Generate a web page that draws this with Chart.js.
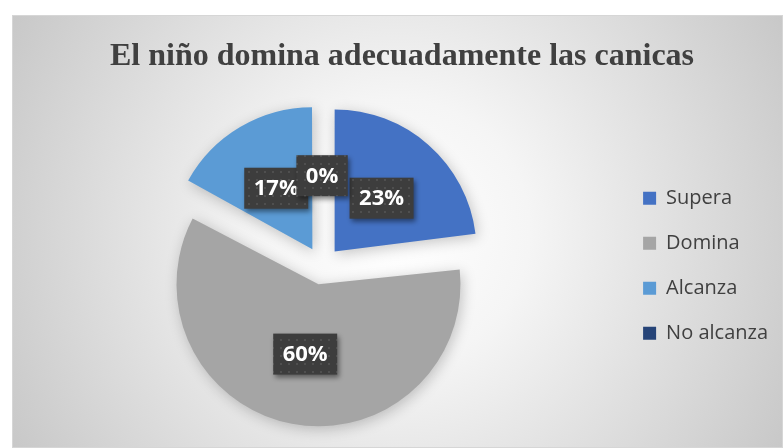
<!DOCTYPE html>
<html>
<head>
<meta charset="utf-8">
<script src="https://cdn.jsdelivr.net/npm/chart.js@4.4.0/dist/chart.umd.min.js"></script>
<style>
html, body { margin: 0; padding: 0; background: #fff; }
#caja {
    position: absolute; left: 12px; top: 15px;
    width: 771px; height: 433px;
    box-sizing: border-box;
    border: 1px solid #d6d6d6;
    background: radial-gradient(circle farthest-corner at 50% 50%, #ffffff 0%, #f5f5f5 30%, #c8c8c8 100%);
}
canvas { display: block; }
</style>
</head>
<body>
<div id="caja"><canvas id="graph1" width="769" height="431"></canvas></div>
<script>
const titulo      = "El niño domina adecuadamente las canicas";
const categorias  = ["Supera", "Domina", "Alcanza", "No alcanza"];
const porcentajes = [23, 60, 17, 0];
const colores     = ["#4472C4", "#A5A5A5", "#5B9BD5", "#264478"];

// trama de puntos para las cajas de las etiquetas (como en Excel)
function trama(ctx){
    const c = document.createElement("canvas");
    c.width = 8; c.height = 8;
    const p = c.getContext("2d");
    p.fillStyle = "#3d3d3d";
    p.fillRect(0, 0, 8, 8);
    p.fillStyle = "#4f4f4f";
    p.fillRect(3, 3, 2, 2);
    return ctx.createPattern(c, "repeat");
}

// Chart.js agranda el radio de las porciones grandes al separarlas; aquí se deja igual para todas
let radiosOriginales = [];

const etiquetas = {
    id: "etiquetas",
    beforeDatasetsDraw(chart){
        const meta = chart.getDatasetMeta(0);
        radiosOriginales = meta.data.map(arc => arc.outerRadius);
        meta.data.forEach(arc => {
            const fix = 1 - Math.sin(Math.min(Math.PI, arc.circumference || 0));
            arc.outerRadius -= (arc.options.offset / 4) * fix;
        });

        const ctx = chart.ctx;
        ctx.save();
        ctx.shadowColor = "rgba(0,0,0,0.22)";
        ctx.shadowBlur = 14;
        ctx.shadowOffsetX = 2;
        ctx.shadowOffsetY = 3;
    },
    afterDatasetsDraw(chart){
        const ctx = chart.ctx;
        ctx.restore();

        const meta = chart.getDatasetMeta(0);
        meta.data.forEach((arc, i) => { arc.outerRadius = radiosOriginales[i]; });

        const relleno = trama(ctx);
        ctx.save();
        ctx.font = "bold 22px 'Open Sans'";
        ctx.textAlign = "center";
        ctx.textBaseline = "middle";
        meta.data.forEach((arc, i) => {
            const p = arc.getProps(["x", "y", "startAngle", "endAngle", "outerRadius"], true);
            const medio = (p.startAngle + p.endAngle) / 2;
            const d = arc.options.offset / 4 + p.outerRadius * 0.5;
            const x = p.x + Math.cos(medio) * d;
            const y = p.y + Math.sin(medio) * d;
            const texto = porcentajes[i] + "%";
            const w = ctx.measureText(texto).width + 19;
            const h = 41;

            ctx.save();
            ctx.shadowColor = "rgba(0,0,0,0.45)";
            ctx.shadowBlur = 5;
            ctx.shadowOffsetX = 2;
            ctx.shadowOffsetY = 3;
            ctx.fillStyle = relleno;
            ctx.fillRect(x - w / 2, y - h / 2, w, h);
            ctx.restore();

            ctx.fillStyle = "#ffffff";
            ctx.fillText(texto, x, y + 1);
        });
        ctx.restore();
    }
};

const ctx = document.getElementById("graph1").getContext("2d");
const myChart = new Chart(ctx, {
    type: "pie",
    data: {
        labels: categorias,
        datasets: [{
            data: porcentajes,
            backgroundColor: colores,
            borderWidth: 0,
            offset: 76,
            radius: 142
        }]
    },
    options: {
        responsive: false,
        animation: false,
        layout: {
            padding: { left: 13, right: 4, top: 0, bottom: 0 }
        },
        plugins: {
            title: {
                display: true,
                text: titulo,
                color: "#404040",
                font: { family: "'Liberation Serif'", size: 32, weight: "bold" },
                padding: { top: 22, bottom: 8 }
            },
            legend: {
                position: "right",
                fullSize: false,
                labels: {
                    color: "#404040",
                    font: { family: "'Open Sans'", size: 20 },
                    boxWidth: 13,
                    boxHeight: 13,
                    padding: 25
                }
            },
            tooltip: { enabled: false }
        }
    },
    plugins: [etiquetas]
});
</script>
</body>
</html>
